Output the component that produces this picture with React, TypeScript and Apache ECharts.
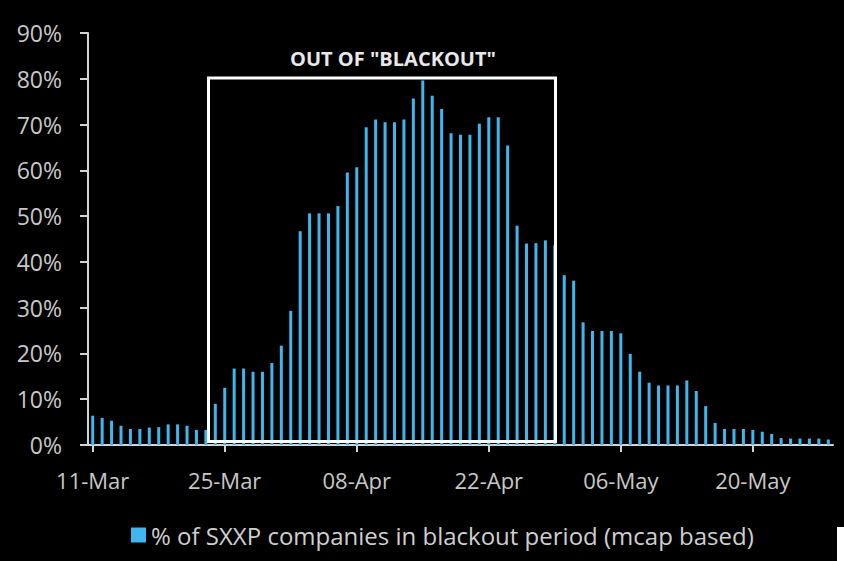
import React, { useEffect, useRef } from "react";
import * as echarts from "echarts";

const startDate = { month: 3, day: 11 };
const dayCount = 79;
const tickLabels = ["11-Mar", "25-Mar", "08-Apr", "22-Apr", "06-May", "20-May"];
const seriesName = "% of SXXP companies in blackout period (mcap based)";
const blackoutValues = [
  6.4, 5.9, 5.3, 4.2, 3.5, 3.5, 3.8, 3.9, 4.5, 4.5, 4.2, 3.3, 3.3,
  9.0, 12.5, 16.7, 16.7, 16.0, 16.0, 17.9, 21.7, 29.3, 46.7, 50.6, 50.6, 50.6, 52.2, 59.5, 60.7, 69.4, 71.1,
  70.5, 70.5, 71.1, 75.7, 79.6, 76.3, 73.4, 68.1, 67.8, 67.8, 70.2, 71.6, 71.6, 65.4, 47.9, 44.0, 44.1, 44.7, 43.7, 37.1,
  35.9, 26.8, 24.9, 24.9, 24.9, 24.4, 19.9, 16.0, 13.6, 13.0, 13.0, 13.0, 14.1,
  11.8, 8.5, 4.8, 3.5, 3.5, 3.5, 3.3, 2.9, 2.4, 1.5, 1.4, 1.4, 1.4, 1.4, 1.2,
];
const yTicks = [0, 10, 20, 30, 40, 50, 60, 70, 80, 90];
const annotationTitle = 'OUT OF "BLACKOUT"';

const monthNames = ["Jan", "Feb", "Mar", "Apr", "May", "Jun", "Jul", "Aug", "Sep", "Oct", "Nov", "Dec"];
function buildCategories(): string[] {
  const out: string[] = [];
  for (let i = 0; i < dayCount; i++) {
    const d = new Date(Date.UTC(2019, startDate.month - 1, startDate.day + i));
    const dd = String(d.getUTCDate()).padStart(2, "0");
    out.push(`${dd}-${monthNames[d.getUTCMonth()]}`);
  }
  out[0] = tickLabels[0];
  return out;
}
const categories = buildCategories();

export default function App() {
  const ref = useRef<HTMLDivElement>(null);
  useEffect(() => {
    if (!ref.current) return;
    const chart = echarts.init(ref.current, null, { renderer: "svg" });
    const font = "'Open Sans', 'DejaVu Sans', sans-serif";
    chart.setOption({
      animation: false,
      backgroundColor: "#000000",
      textStyle: { fontFamily: font },
      grid: { left: 88, right: 11, top: 33, bottom: 116, containLabel: false },
      legend: {
        data: [seriesName],
        left: 126,
        top: 518,
        icon: "rect",
        itemWidth: 15,
        itemHeight: 15,
        textStyle: { color: "#cfcfcf", fontSize: 24, fontFamily: font },
      },
      xAxis: {
        type: "category",
        data: categories,
        boundaryGap: true,
        axisLine: { show: true, lineStyle: { color: "#d4d4d4", width: 2 } },
        axisTick: {
          show: true,
          alignWithLabel: true,
          interval: 13,
          length: 7,
          lineStyle: { color: "#d4d4d4", width: 2 },
        },
        axisLabel: {
          interval: 13,
          color: "#c8c8c8",
          fontSize: 22,
          margin: 24,
          fontFamily: font,
          formatter: (v: string) => (tickLabels.includes(v) ? v : ""),
        },
        splitLine: { show: false },
      },
      yAxis: {
        type: "value",
        min: yTicks[0],
        max: yTicks[yTicks.length - 1],
        interval: 10,
        axisLine: { show: true, lineStyle: { color: "#d4d4d4", width: 2 } },
        axisTick: { show: true, length: 8, lineStyle: { color: "#d4d4d4", width: 2 } },
        axisLabel: {
          color: "#c8c8c8",
          fontSize: 23,
          margin: 26,
          fontFamily: font,
          formatter: "{value}%",
        },
        splitLine: { show: false },
      },
      series: [
        {
          name: seriesName,
          type: "bar",
          data: blackoutValues,
          barWidth: 3,
          itemStyle: { color: "#3fb7ec" },
        },
      ],
      graphic: [
        {
          type: "rect",
          z: 100,
          shape: { x: 208.5, y: 78, width: 347, height: 363.5 },
          style: { fill: "none", stroke: "#ffffff", lineWidth: 3 },
        },
        {
          type: "text",
          z: 100,
          x: 393,
          y: 58,
          style: {
            text: annotationTitle,
            fill: "#e8e8e8",
            font: `bold 20px ${font}`,
            textAlign: "center",
            textVerticalAlign: "middle",
          },
        },
        {
          type: "rect",
          z: 100,
          shape: { x: 837, y: 527, width: 7, height: 34 },
          style: { fill: "#ffffff" },
        },
      ],
    });
    return () => chart.dispose();
  }, []);
  return (
    <div
      ref={ref}
      style={{ position: "fixed", left: 0, top: 0, width: 844, height: 561 }}
    />
  );
}
